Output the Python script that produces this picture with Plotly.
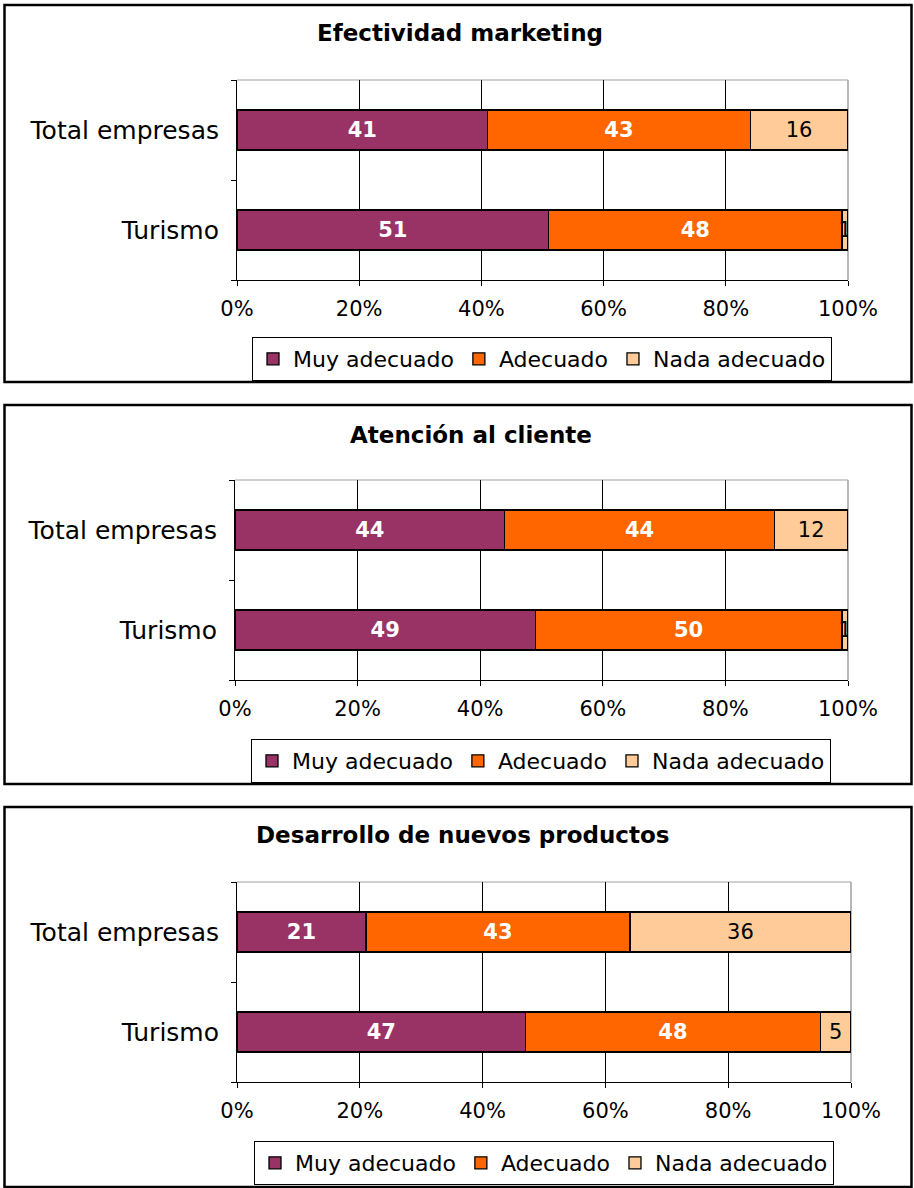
import plotly.graph_objects as go

# Survey results: share of firms rating each area (percent)
categories = ["Turismo", "Total empresas"]
series_names = ["Muy adecuado", "Adecuado", "Nada adecuado"]
series_colors = ["#993366", "#FF6600", "#FFCC99"]
label_colors = ["white", "white", "black"]
label_weights = ["bold", "bold", "normal"]

panel_titles = ["Efectividad marketing", "Atención al cliente", "Desarrollo de nuevos productos"]

# values per panel, per series, ordered as categories (Turismo, Total empresas)
marketing_muy = [51, 41]
marketing_adec = [48, 43]
marketing_nada = [1, 16]

atencion_muy = [49, 44]
atencion_adec = [50, 44]
atencion_nada = [1, 12]

desarrollo_muy = [47, 21]
desarrollo_adec = [48, 43]
desarrollo_nada = [5, 36]

x_ticks = [0, 20, 40, 60, 80, 100]
x_tick_labels = ["0%", "20%", "40%", "60%", "80%", "100%"]
x_grid = [20, 40, 60, 80]

panels = [
    [marketing_muy, marketing_adec, marketing_nada],
    [atencion_muy, atencion_adec, atencion_nada],
    [desarrollo_muy, desarrollo_adec, desarrollo_nada],
]

W, H = 914, 1188
FONT = "DejaVu Sans"


def px(v):
    return v / W


def py(v):
    return 1 - v / H


# layout geometry (pixels): panel frame, plot area, title, legend
frames = [(4.5, 5, 911.5, 382), (4.5, 405, 911.5, 784), (4.5, 807, 911.5, 1187)]
plot_areas = [(237, 80, 848, 280), (235, 480, 848, 680), (237, 882, 851, 1082)]
title_pos = [(460, 33), (471, 435), (462, 835)]
legend_pos = [(542, 359), (541, 761), (544, 1163)]

fig = go.Figure()
layout = dict(
    width=W,
    height=H,
    margin=dict(l=0, r=0, t=0, b=0, autoexpand=False),
    paper_bgcolor="white",
    plot_bgcolor="white",
    barmode="stack",
    bargap=0.6,
    font=dict(family=FONT, color="black"),
    showlegend=True,
)
shapes = []
annotations = []

for p, values in enumerate(panels):
    suffix = "" if p == 0 else str(p + 1)
    xa, ya = "x" + suffix, "y" + suffix
    leg = "legend" + suffix
    for s, name in enumerate(series_names):
        fig.add_trace(
            go.Bar(
                orientation="h",
                x=values[s],
                y=categories,
                name=name,
                xaxis=xa,
                yaxis=ya,
                legend=leg,
                marker=dict(color=series_colors[s], line=dict(color="black", width=1.3)),
                text=[str(v) for v in values[s]],
                textposition="inside",
                insidetextanchor="middle",
                textangle=0,
                constraintext="none",
                textfont=dict(family=FONT, size=21, color=label_colors[s], weight=label_weights[s]),
                cliponaxis=True,
                hoverinfo="skip",
            )
        )

    l, t, r, b = plot_areas[p]
    layout["xaxis" + suffix] = dict(
        domain=[px(l), px(r)],
        anchor=ya,
        range=[0, 100],
        tickmode="array",
        tickvals=x_ticks,
        ticktext=x_tick_labels,
        ticks="outside",
        ticklen=5,
        tickcolor="black",
        ticklabelstandoff=5,
        showline=True,
        linecolor="black",
        linewidth=1,
        showgrid=False,
        minor=dict(tickmode="array", tickvals=x_grid, showgrid=True,
                   gridcolor="black", gridwidth=1, ticks=""),
        zeroline=False,
        automargin=False,
        tickfont=dict(family=FONT, size=21, color="black"),
        fixedrange=True,
    )
    layout["yaxis" + suffix] = dict(
        domain=[py(b), py(t)],
        anchor=xa,
        type="category",
        categoryorder="array",
        categoryarray=categories,
        range=[-0.5, 1.5],
        tickson="boundaries",
        ticks="outside",
        ticklen=5,
        tickcolor="black",
        ticklabelstandoff=12,
        showline=True,
        linecolor="black",
        linewidth=1,
        showgrid=False,
        zeroline=False,
        automargin=False,
        tickfont=dict(family=FONT, size=25, color="black"),
        fixedrange=True,
    )

    lx, ly = legend_pos[p]
    layout[leg] = dict(
        orientation="h",
        x=px(lx),
        y=py(ly),
        xanchor="center",
        yanchor="middle",
        traceorder="normal",
        bgcolor="white",
        bordercolor="black",
        borderwidth=1,
        font=dict(family=FONT, size=22, color="black"),
        itemwidth=30,
        tracegroupgap=0,
    )

    # light grey top and right edge of the plot area
    shapes.append(dict(type="line", xref=xa + " domain", yref=ya + " domain",
                       x0=0, x1=1, y0=1, y1=1, line=dict(color="#A0A0A0", width=1), layer="below"))
    shapes.append(dict(type="line", xref=xa + " domain", yref=ya + " domain",
                       x0=1, x1=1, y0=0, y1=1, line=dict(color="#A0A0A0", width=1.5), layer="below"))

    # panel frame
    fl, ft, fr, fb = frames[p]
    shapes.append(dict(type="rect", xref="paper", yref="paper",
                       x0=px(fl), x1=px(fr), y0=py(fb), y1=py(ft),
                       line=dict(color="black", width=2.5), fillcolor="rgba(0,0,0,0)", layer="below"))

    tx, ty = title_pos[p]
    annotations.append(dict(text="<b>" + panel_titles[p] + "</b>", xref="paper", yref="paper",
                            x=px(tx), y=py(ty), xanchor="center", yanchor="middle",
                            showarrow=False, font=dict(family=FONT, size=23, color="black")))

layout["shapes"] = shapes
layout["annotations"] = annotations
fig.update_layout(**layout)

fig.write_html("out.html")
